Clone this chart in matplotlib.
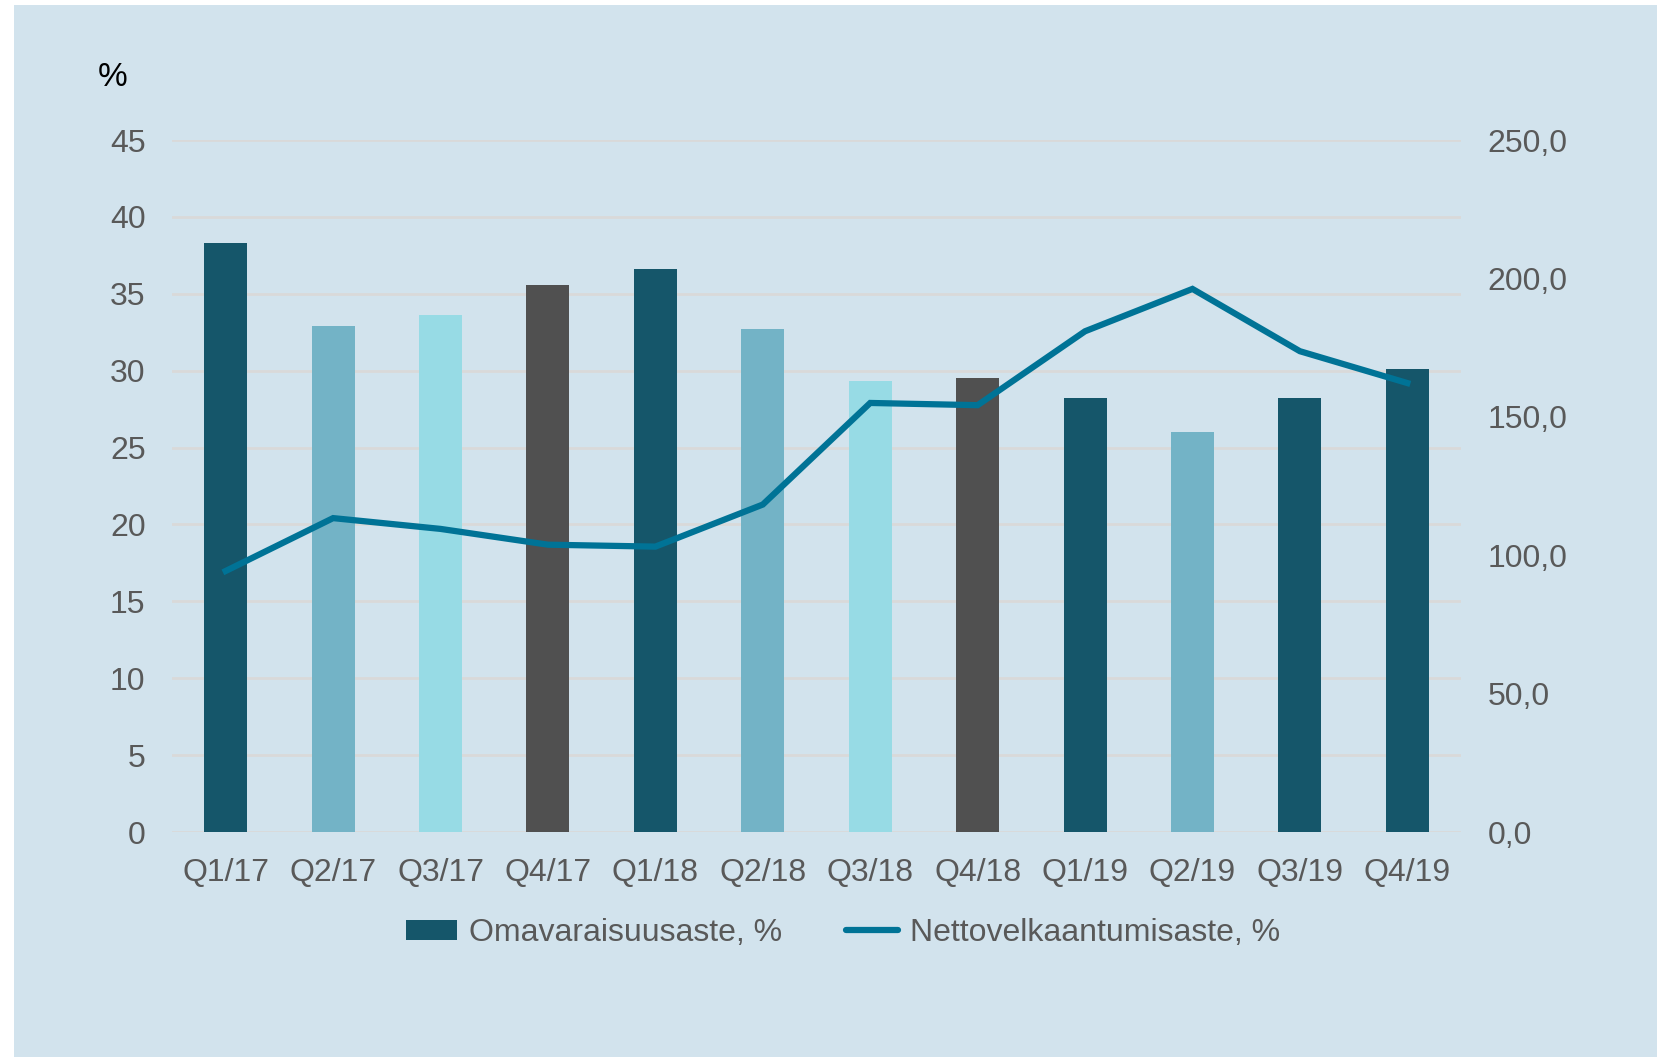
import matplotlib
matplotlib.use("Agg")
import matplotlib.pyplot as plt
from matplotlib.patches import Rectangle, Patch
from matplotlib.lines import Line2D
import numpy as np

categories = ["Q1/17", "Q2/17", "Q3/17", "Q4/17", "Q1/18", "Q2/18",
              "Q3/18", "Q4/18", "Q1/19", "Q2/19", "Q3/19", "Q4/19"]
equity_ratio = [38.3, 32.9, 33.6, 35.6, 36.6, 32.7, 29.3, 29.5, 28.2, 26.0, 28.2, 30.1]
gearing = [94.3, 113.4, 109.5, 103.8, 103.1, 118.3, 155.0, 154.2, 180.9, 196.2, 173.7, 162.2]
left_ticks = [0, 5, 10, 15, 20, 25, 30, 35, 40, 45]
right_ticks = [0, 50, 100, 150, 200, 250]

DARK = "#15566A"
MID = "#73B3C6"
LIGHT = "#97DBE5"
GRAY = "#505050"
bar_colors = [DARK, MID, LIGHT, GRAY, DARK, MID, LIGHT, GRAY, DARK, MID, DARK, DARK]
LINE = "#007396"
BG = "#D2E3ED"
TXT = "#595959"
GRID = "#D9D9D9"

plt.rcParams["font.family"] = ["Liberation Sans", "DejaVu Sans"]

W, H = 1657, 1057
fig = plt.figure(figsize=(W / 100, H / 100), dpi=100, facecolor="white")
fig.patches.append(Rectangle((14 / W, 0), 1 - 14 / W, 1 - 5 / H, transform=fig.transFigure,
                             facecolor=BG, edgecolor="none", zorder=-10))

left, right = 172 / W, 1461 / W
bottom, top = 1 - 832 / H, 1 - 140 / H
ax = fig.add_axes([left, bottom, right - left, top - bottom])
ax.set_facecolor("none")
x = np.arange(len(categories))
ax.bar(x, equity_ratio, width=0.40, color=bar_colors, zorder=3)
ax.set_xlim(-0.5, len(categories) - 0.5)
ax.set_ylim(0, 45)
ax.set_yticks(left_ticks)
ax.set_yticklabels([str(t) for t in left_ticks])
ax.set_xticks(x)
ax.set_xticklabels(categories)
ax.grid(axis="y", color=GRID, linewidth=2, zorder=0)
ax.set_axisbelow(True)
for s in ax.spines.values():
    s.set_visible(False)
ax.tick_params(axis="both", length=0, labelsize=23, colors=TXT)
ax.tick_params(axis="y", pad=19)
ax.tick_params(axis="x", pad=18.5)

ax2 = ax.twinx()
ax2.plot(x, gearing, color=LINE, linewidth=4.5, zorder=4, solid_joinstyle="miter")
ax2.set_ylim(0, 250)
ax2.set_yticks(right_ticks)
ax2.set_yticklabels([f"{t:.1f}".replace(".", ",") for t in right_ticks])
for s in ax2.spines.values():
    s.set_visible(False)
ax2.tick_params(axis="y", length=0, labelsize=23, colors=TXT, pad=19)

fig.text(98 / W, 1 - 77 / H, "%", fontsize=24, color="black", va="center", ha="left")

handles = [Patch(facecolor=DARK, edgecolor="none"),
           Line2D([0], [0], color=LINE, linewidth=4.5, solid_capstyle="round")]
fig.legend(handles, ["Omavaraisuusaste, %", "Nettovelkaantumisaste, %"],
           loc="center", bbox_to_anchor=(843 / W, 1 - 933 / H), ncol=2, frameon=False,
           fontsize=23, labelcolor=TXT, handlelength=1.6, handleheight=0.6,
           handletextpad=0.4, columnspacing=2.0)

fig.savefig("out.png", dpi=100, facecolor="white")
